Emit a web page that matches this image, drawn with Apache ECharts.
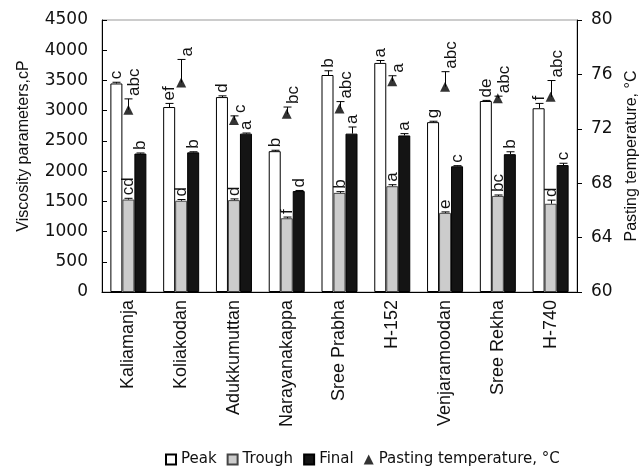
<!DOCTYPE html>
<html lang="en">
<head>
<meta charset="UTF-8">
<title>pasting profile</title>
<script src="https://cdn.jsdelivr.net/npm/echarts@6/dist/echarts.min.js"></script>
<style>
    html, body { margin: 0; padding: 0; background: #fff; }
    #main { width: 644px; height: 471px; }
</style>
</head>
<body>
<div id="main"></div>
<script>
    // data
    var categories = ['Kaliamanja', 'Koliakodan', 'Adukkumuttan', 'Narayanakappa', 'Sree Prabha',
        'H-152', 'Venjaramoodan', 'Sree Rekha', 'H-740'];

    var peak = [3450, 3060, 3225, 2330, 3590, 3790, 2810, 3160, 3040];
    var peakErr = [20, 60, 20, 15, 70, 40, 15, 10, 80];
    var peakLetters = ['c', 'ef', 'd', 'b', 'b', 'a', 'g', 'de', 'f'];

    var trough = [1530, 1510, 1520, 1220, 1640, 1750, 1310, 1590, 1460];
    var troughErr = [20, 20, 20, 20, 20, 25, 15, 15, 60];
    var troughLetters = ['cd', 'd', 'd', 'f', 'b', 'a', 'e', 'bc', 'd'];

    var finalV = [2290, 2310, 2620, 1670, 2620, 2590, 2080, 2280, 2100];
    var finalErr = [10, 10, 10, 10, 110, 30, 10, 40, 30];
    var finalLetters = ['b', 'b', 'a', 'd', 'a', 'a', 'c', 'b', 'c'];

    var temp = [73.4, 75.4, 72.65, 73.1, 73.5, 75.5, 75.1, 74.25, 74.35];
    var tempErr = [0.8, 1.7, 0.3, 0.5, 0.5, 0.4, 1.1, 0.15, 1.2];
    var tempLetters = ['abc', 'a', 'c', 'bc', 'abc', 'a', 'abc', 'abc', 'abc'];

    var leftTicks = {min: 0, max: 4500, interval: 500};
    var rightTicks = {min: 60, max: 80, interval: 4};

    var myChart = echarts.init(document.getElementById('main'));

    function triples(vals, errs) {
        var out = [];
        for (var i = 0; i < vals.length; i++) {
            out.push([i, vals[i], errs[i]]);
        }
        return out;
    }

    // error bar + significance letter (rotated) drawn above each mark
    function errSeries(vals, errs, letters, offset, labelDx, axisIdx) {
        return {
            type: 'custom',
            yAxisIndex: axisIdx,
            z: 5,
            silent: true,
            data: triples(vals, errs),
            encode: {x: 0, y: 1},
            renderItem: function (params, api) {
                var i = api.value(0), v = api.value(1), e = api.value(2);
                var base = api.coord([i, v]);
                var top = api.coord([i, v + e]);
                var x = Math.round(base[0] + offset) + 0.5;
                var children = [];
                if (e > 0) {
                    children.push({type: 'line', shape: {x1: x, y1: base[1], x2: x, y2: top[1]},
                        style: {stroke: '#000', lineWidth: 1}});
                    children.push({type: 'line', shape: {x1: x - 4, y1: top[1], x2: x + 4, y2: top[1]},
                        style: {stroke: '#000', lineWidth: 1}});
                }
                children.push({
                    type: 'text', x: x + labelDx, y: top[1] - 3, rotation: Math.PI / 2,
                    style: {
                        text: letters[params.dataIndex], x: 0, y: 0,
                        align: 'left', verticalAlign: 'middle',
                        fontSize: 17, fontFamily: 'Liberation Sans', fill: '#111'
                    }
                });
                return {type: 'group', children: children};
            }
        };
    }

    function plain(v) {
        return String(v);
    }

    var option = {
        animation: false,
        textStyle: {fontFamily: 'Liberation Sans'},
        grid: {
            left: 102, right: 67, top: 20, bottom: 179,
            show: true, borderColor: '#999', borderWidth: 1,
            outerBoundsMode: 'none'
        },
        legend: {
            top: 447,
            left: 160,
            itemWidth: 10,
            itemHeight: 10,
            itemGap: 10,
            textStyle: {fontFamily: 'DejaVu Sans', fontSize: 15, color: '#111'},
            data: [
                {name: 'Peak', icon: 'rect'},
                {name: 'Trough', icon: 'rect'},
                {name: 'Final', icon: 'rect'},
                {name: 'Pasting temperature, °C', icon: 'triangle'}
            ]
        },
        xAxis: {
            type: 'category',
            data: categories,
            axisLine: {lineStyle: {color: '#000', width: 1}},
            axisTick: {inside: true, length: 5, interval: 0, lineStyle: {color: '#000'}},
            axisLabel: {
                interval: 0, rotate: 90, margin: 8,
                fontSize: 18, fontFamily: 'Liberation Sans', color: '#111'
            }
        },
        yAxis: [
            {
                type: 'value',
                min: leftTicks.min, max: leftTicks.max, interval: leftTicks.interval,
                name: 'Viscosity parameters,cP',
                nameLocation: 'middle',
                nameGap: 70,
                nameTextStyle: {fontSize: 16, fontFamily: 'Liberation Sans', color: '#111', padding: [0, 0, 0, 20]},
                axisLine: {show: true, lineStyle: {color: '#000'}},
                axisTick: {show: true, inside: true, length: 5, lineStyle: {color: '#000'}},
                axisLabel: {margin: 14, fontSize: 17, fontFamily: 'DejaVu Sans', color: '#111', formatter: plain},
                splitLine: {show: false}
            },
            {
                type: 'value',
                min: rightTicks.min, max: rightTicks.max, interval: rightTicks.interval,
                name: 'Pasting temperature, °C',
                nameLocation: 'middle',
                nameGap: 42,
                nameRotate: 90,
                nameTextStyle: {fontSize: 16, fontFamily: 'Liberation Sans', color: '#111'},
                axisLine: {show: true, lineStyle: {color: '#000'}},
                axisTick: {show: true, inside: false, length: 5, lineStyle: {color: '#000'}},
                axisLabel: {margin: 14, fontSize: 17, fontFamily: 'DejaVu Sans', color: '#111', formatter: plain},
                splitLine: {show: false}
            }
        ],
        series: [
            {
                name: 'Peak', type: 'bar', data: peak, barWidth: 12, barGap: '0%',
                itemStyle: {color: '#fff', borderColor: '#000', borderWidth: 1}
            },
            {
                name: 'Trough', type: 'bar', data: trough, barWidth: 12, barGap: '0%',
                itemStyle: {color: '#cccccc', borderColor: '#444', borderWidth: 1}
            },
            {
                name: 'Final', type: 'bar', data: finalV, barWidth: 12, barGap: '0%',
                itemStyle: {color: '#141414', borderColor: '#000', borderWidth: 1}
            },
            {
                name: 'Pasting temperature, °C', type: 'scatter', yAxisIndex: 1, data: temp,
                symbol: 'triangle', symbolSize: [10, 10], z: 6,
                itemStyle: {color: '#000'}
            },
            errSeries(peak, peakErr, peakLetters, -12, 0, 0),
            errSeries(trough, troughErr, troughLetters, 0, 0, 0),
            errSeries(finalV, finalErr, finalLetters, 12, 0, 0),
            errSeries(temp, tempErr, tempLetters, 0, 6, 1)
        ]
    };

    myChart.setOption(option);
</script>
</body>
</html>
